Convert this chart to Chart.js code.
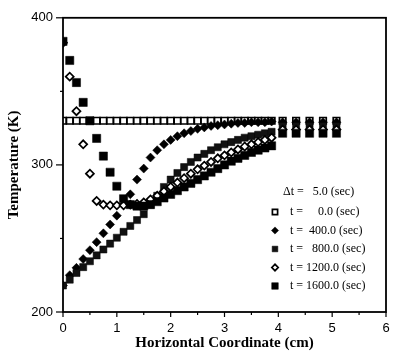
<!DOCTYPE html>
<html>
<head>
<meta charset="utf-8">
<script src="https://cdn.jsdelivr.net/npm/chart.js"></script>
<style>
	html, body { margin: 0; padding: 0; background: #fff; }
	#wrap { width: 410px; height: 353px; }
</style>
</head>
<body>
<div id="wrap"><canvas id="chart" width="410" height="353"></canvas></div>
<script>
// horizontal coordinate (cm) of each node
const xs = [
	0, 0.125, 0.25, 0.375, 0.5, 0.625, 0.75, 0.875, 1.0, 1.125, 1.25, 1.375, 1.5, 1.625, 1.75, 1.875,
	2.0, 2.125, 2.25, 2.375, 2.5, 2.625, 2.75, 2.875, 3.0, 3.125, 3.25, 3.375, 3.5, 3.625, 3.75, 3.875,
	4.08, 4.33, 4.58, 4.83, 5.08
];

// temperature (K) at each node
const t0 = [
	330, 330, 330, 330, 330, 330, 330, 330, 330, 330, 330, 330, 330, 330, 330, 330,
	330, 330, 330, 330, 330, 330, 330, 330, 330, 330, 330, 330, 330, 330, 330, 330,
	330, 330, 330, 330, 330
];
const t400 = [
	218, 225, 230, 236, 242, 247.5, 253.5, 259.5, 265.5, 273, 280, 290, 297.5, 305, 310, 314,
	317, 319.5, 321.5, 323, 324.5, 325.5, 326.5, 327, 327.5, 328, 328.5, 328.5, 329, 329, 329, 329.5,
	329, 329, 329, 329, 329
];
const t800 = [
	218, 222, 226.5, 230.5, 234.5, 238.5, 242.5, 246.5, 250.5, 254.5, 258.5, 262.5, 266.5, 273, 279, 285,
	290, 294.5, 298.5, 302, 305, 307.5, 310, 312, 314, 315.5, 317, 318.5, 319.5, 320.5, 321.5, 322.5,
	326.5, 326.5, 326.5, 326.5, 326.5
];
const t1200 = [
	383, 360, 336.5, 314, 294, 275.5, 273, 272.5, 272.5, 272.5, 273, 273.5, 274.5, 276.5, 279, 282,
	285, 288, 291, 294, 297, 299.5, 302, 304.5, 306.5, 308.5, 310.5, 312.5, 314, 315.5, 317, 318.5,
	324, 324, 324, 324, 324
];
const t1600 = [
	384, 371, 356, 342.5, 330, 318, 306, 295, 285.5, 277, 273, 272, 272, 273, 275, 277.5,
	280, 282.5, 285, 287.5, 290, 292.5, 295, 297.5, 300, 302.5, 304.5, 306.5, 308.5, 310, 311.5, 313,
	321.5, 321.5, 321.5, 321.5, 321.5
];

const legendLabels = ['t =     0.0 (sec)', 't =  400.0 (sec)', 't =   800.0 (sec)', 't = 1200.0 (sec)', 't = 1600.0 (sec)'];
const deltaLabel = '\u0394t =   5.0 (sec)';

const serif = '"Liberation Serif", "DejaVu Serif", serif';
const sans = '"Liberation Sans", Arial, sans-serif';

function pts(ys) {
	return xs.map((x, i) => ({ x, y: ys[i] }));
}

const styles = [
	{ pointStyle: 'rect', radius: 4.6, bg: '#fff', border: '#000', bw: 1.7 },
	{ pointStyle: 'rectRot', radius: 4.5, bg: '#000', border: '#000', bw: 0.5 },
	{ pointStyle: 'rect', radius: 5, bg: '#111', border: '#000', bw: 0.5 },
	{ pointStyle: 'rectRot', radius: 4, bg: '#fff', border: '#000', bw: 1.7 },
	{ pointStyle: 'rect', radius: 5.8, bg: '#000', border: '#000', bw: 0.5 },
];
const series = [t0, t400, t800, t1200, t1600];

const datasets = series.map((ys, i) => ({
	label: legendLabels[i],
	data: pts(ys),
	showLine: false,
	pointStyle: styles[i].pointStyle,
	pointRadius: styles[i].radius,
	pointBackgroundColor: styles[i].bg,
	pointBorderColor: styles[i].border,
	pointBorderWidth: styles[i].bw,
	order: 5 - i,
}));

// ticks out of the axes, major + minor, and the box round the plot
const frameTicks = {
	id: 'frameTicks',
	afterDraw(chart) {
		const { ctx, chartArea: a, scales } = chart;
		ctx.save();
		ctx.strokeStyle = '#000';
		ctx.lineWidth = 1.8;
		ctx.strokeRect(a.left, a.top, a.right - a.left, a.bottom - a.top);
		ctx.lineWidth = 1.2;
		for (let v = 0; v <= 6; v += 0.5) {
			const px = scales.x.getPixelForValue(v);
			const len = Number.isInteger(v) ? 5 : 3;
			ctx.beginPath();
			ctx.moveTo(px, a.bottom);
			ctx.lineTo(px, a.bottom + len);
			ctx.stroke();
		}
		for (let v = 200; v <= 400; v += 50) {
			const py = scales.y.getPixelForValue(v);
			const len = v % 100 === 0 ? 7 : 3;
			ctx.beginPath();
			ctx.moveTo(a.left - len, py);
			ctx.lineTo(a.left, py);
			ctx.stroke();
		}
		ctx.restore();
	},
};

const legendBox = {
	id: 'legendBox',
	afterDraw(chart) {
		const { ctx } = chart;
		ctx.save();
		ctx.fillStyle = '#000';
		ctx.font = '12px ' + serif;
		ctx.textBaseline = 'middle';
		ctx.textAlign = 'left';
		ctx.fillText(deltaLabel, 283, 192);
		const ys = [212, 230.5, 249, 267.5, 286];
		legendLabels.forEach((txt, i) => {
			const s = styles[i];
			ctx.fillStyle = s.bg;
			ctx.strokeStyle = s.border;
			ctx.lineWidth = s.bw;
			Chart.helpers.drawPoint(ctx, { pointStyle: s.pointStyle, radius: s.radius * 0.8, borderWidth: s.bw, rotation: 0 }, 275, ys[i]);
			ctx.fillStyle = '#000';
			ctx.fillText(txt, 290, ys[i]);
		});
		ctx.restore();
	},
};

new Chart(document.getElementById('chart'), {
	type: 'scatter',
	data: { datasets },
	options: {
		responsive: false,
		animation: false,
		layout: { padding: { top: 13, right: 24, left: 0, bottom: 0 } },
		plugins: { legend: { display: false }, tooltip: { enabled: false } },
		scales: {
			x: {
				type: 'linear',
				min: 0,
				max: 6,
				grid: { display: false, drawTicks: false },
				border: { display: false },
				ticks: { stepSize: 1, padding: 9, color: '#000', font: { family: sans, size: 13 } },
				title: { display: true, text: 'Horizontal Coordinate (cm)', color: '#000', padding: { top: 0, bottom: 1 }, font: { family: serif, size: 15, weight: 'bold' } },
				afterFit(scale) { scale.height = 41; },
			},
			y: {
				type: 'linear',
				min: 200,
				max: 400,
				grid: { display: false, drawTicks: false },
				border: { display: false },
				ticks: { stepSize: 100, padding: 10, color: '#000', font: { family: sans, size: 13 } },
				title: { display: true, text: 'Temperature (K)', color: '#000', padding: { top: 5, bottom: 0 }, font: { family: serif, size: 15, weight: 'bold' } },
				afterFit(scale) { scale.width = 63; },
			},
		},
	},
	plugins: [frameTicks, legendBox],
});
</script>
</body>
</html>
